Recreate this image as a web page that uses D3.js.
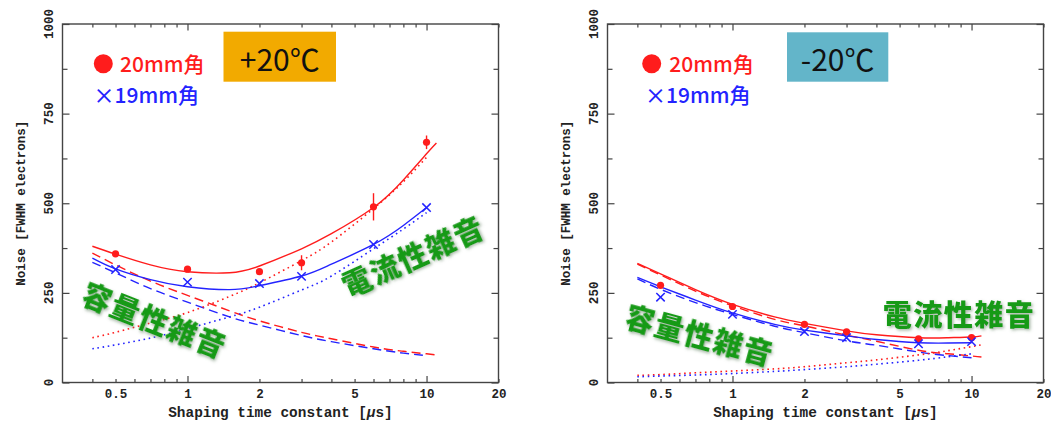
<!DOCTYPE html>
<html>
<head>
<meta charset="utf-8">
<script src="https://cdn.jsdelivr.net/npm/d3@7"></script>
<style>
  body { margin: 0; background: #fff; }
  svg { display: block; }
</style>
</head>
<body>
<div id="chart"></div>
<script>
// shaping times at which the noise was measured [us]
const shapingTimes = [0.5, 1, 2, 3, 6, 10];

// +20C measurements [FWHM electrons]
const hot20mm = [359, 316, 309, 334, 490, 670];
const hot20mmErr = [6, 6, 6, 21, 38, 19];
const hot19mm = [315, 280, 276, 296, 385, 488];

// -20C measurements
const cold20mm = [271, 212, 162, 141, 122, 125];
const cold20mmErr = [5, 5, 5, 5, 5, 5];
const cold19mm = [238, 190, 142, 125, 108, 114];

// fitted curves at these shaping times
const fitTimes = [0.4, 0.5, 0.7, 1, 1.5, 2, 3, 4, 6, 8, 10, 11];

const hotRedTotal = [380, 358, 328, 309, 306, 325, 373, 415, 488, 565, 638, 668];
const hotRedCap   = [361, 328, 283, 243, 200, 172, 140, 122, 99, 87, 80, 77];
const hotRedCur   = [125, 140, 166, 195, 240, 278, 340, 392, 485, 560, 628, null];
const hotBlueTotal = [347, 317, 287, 267, 259, 270, 297, 330, 385, 438, 488, null];
const hotBlueCap   = [335, 306, 262, 224, 183, 160, 131, 114, 94, 82, 75, null];
const hotBlueCur   = [94, 105, 124, 150, 183, 210, 258, 297, 373, 428, 474, null];

const coldRedTotal = [332, 303, 259, 218, 183, 165, 144, 133, 125, 125, 127, 130];
const coldRedCap   = [330, 300, 255, 214, 176, 158, 132, 115, 90, 80, 74, 71];
const coldRedCur   = [20, 22, 27, 32, 38, 44, 55, 63, 77, 89, 100, 105];
const coldBlueTotal = [293, 267, 230, 194, 162, 146, 130, 120, 111, 110, 111, null];
const coldBlueCap   = [289, 260, 223, 190, 157, 139, 116, 104, 85, 75, 69, null];
const coldBlueCur   = [16, 18, 21, 25, 31, 36, 44, 51, 62, 72, 80, null];

const xTickLabels = [0.5, 1, 2, 5, 10, 20];
const xMajorTicks = [1, 10];
const yTickLabels = [0, 250, 500, 750, 1000];

const legendRed = "20mm角";
const legendBlue = "×19mm角";
const capLabel = "容量性雑音";
const curLabel = "電流性雑音";

const RED = "#ff1c1c", BLUE = "#2323ff", GREEN = "#159a15";
const axisFont = "'Liberation Mono', 'DejaVu Sans Mono', monospace";
const jpFont = "'Noto Sans CJK JP', 'Noto Sans', sans-serif";

const W = 1051, H = 423;
const svg = d3.select("#chart").append("svg")
  .attr("width", W).attr("height", H);

const defs = svg.append("defs");
const shadow = defs.append("filter").attr("id", "soft")
  .attr("x", "-10%").attr("y", "-30%").attr("width", "130%").attr("height", "170%");
shadow.append("feDropShadow")
  .attr("dx", 1.5).attr("dy", 1.5).attr("stdDeviation", 1.6)
  .attr("flood-color", "#5a7a5a").attr("flood-opacity", 0.55);

const panels = [
  {
    left: 62.5, times: shapingTimes,
    red: hot20mm, redErr: hot20mmErr, blue: hot19mm,
    curves: [
      {v: hotRedCap, c: RED, dash: "9,5"},
      {v: hotBlueCap, c: BLUE, dash: "9,5"},
      {v: hotRedCur, c: RED, dash: "1.6,3.6"},
      {v: hotBlueCur, c: BLUE, dash: "1.6,3.6"},
      {v: hotRedTotal, c: RED, dash: null},
      {v: hotBlueTotal, c: BLUE, dash: null}
    ],
    box: {x: 223.5, y: 31.7, w: 112.5, h: 50, fill: "#f2aa00", text: "+20℃"},
    legend: {cx: 103.3, tx: 120, bx: 93.5},
    capText: {x: 155, y: 319, a: 21.6},
    curText: {x: 412.5, y: 255, a: -24.1}
  },
  {
    left: 607.5, times: shapingTimes,
    red: cold20mm, redErr: cold20mmErr, blue: cold19mm,
    curves: [
      {v: coldRedCap, c: RED, dash: "9,5"},
      {v: coldBlueCap, c: BLUE, dash: "9,5"},
      {v: coldRedCur, c: RED, dash: "1.6,3.6"},
      {v: coldBlueCur, c: BLUE, dash: "1.6,3.6"},
      {v: coldRedTotal, c: RED, dash: null},
      {v: coldBlueTotal, c: BLUE, dash: null}
    ],
    box: {x: 787, y: 32.3, w: 101.3, h: 49.4, fill: "#63b5c9", text: "-20℃"},
    legend: {cx: 651.7, tx: 669.3, bx: 645},
    capText: {x: 700, y: 334, a: 15.2},
    curText: {x: 959, y: 313, a: 0}
  }
];

panels.forEach(p => drawPanel(p));

function drawPanel(p) {
  const pw = 436, top = 24, bottom = 382.5;
  const x = d3.scaleLog([0.3, 20], [p.left, p.left + pw]);
  const y = d3.scaleLinear([0, 1000], [bottom, top]);
  const g = svg.append("g");

  // frame
  g.append("rect")
    .attr("x", p.left).attr("y", top)
    .attr("width", pw).attr("height", bottom - top)
    .attr("fill", "none").attr("stroke", "#444").attr("stroke-width", 1.4);

  const minorX = x.ticks().filter(t => t > 0.3 && xMajorTicks.indexOf(t) < 0);
  const tickStyle = sel => {
    sel.select(".domain").remove();
    sel.selectAll("line").attr("stroke", "#444").attr("stroke-width", 1.2);
  };

  // x ticks on bottom and top, pointing inward
  g.append("g").attr("transform", `translate(0,${bottom})`)
    .call(d3.axisBottom(x).tickValues(minorX).tickSize(-3.5).tickFormat(""))
    .call(tickStyle);
  g.append("g").attr("transform", `translate(0,${bottom})`)
    .call(d3.axisBottom(x).tickValues(xMajorTicks).tickSize(-6.5).tickFormat(""))
    .call(tickStyle);
  g.append("g").attr("transform", `translate(0,${top})`)
    .call(d3.axisTop(x).tickValues(minorX).tickSize(-3.5).tickFormat(""))
    .call(tickStyle);
  g.append("g").attr("transform", `translate(0,${top})`)
    .call(d3.axisTop(x).tickValues(xMajorTicks).tickSize(-6.5).tickFormat(""))
    .call(tickStyle);
  g.append("g").attr("transform", `translate(0,${bottom})`)
    .call(d3.axisBottom(x).tickValues(xTickLabels).tickSize(0).tickPadding(6.5)
      .tickFormat(d3.format("~g")))
    .call(sel => {
      sel.select(".domain").remove();
      sel.selectAll("text").attr("font-family", axisFont).attr("font-weight", "bold")
        .attr("font-size", 12.5).attr("fill", "#222");
    });

  // y ticks on left and right
  const minorY = d3.range(125, 1000, 250);
  [[d3.axisLeft, p.left], [d3.axisRight, p.left + pw]].forEach(([ax, pos]) => {
    g.append("g").attr("transform", `translate(${pos},0)`)
      .call(ax(y).tickValues(yTickLabels).tickSize(-7).tickFormat(""))
      .call(tickStyle);
    g.append("g").attr("transform", `translate(${pos},0)`)
      .call(ax(y).tickValues(minorY).tickSize(-5).tickFormat(""))
      .call(tickStyle);
  });

  // rotated y tick labels
  g.append("g").selectAll("text")
    .data(yTickLabels)
    .join("text")
      .attr("transform", d => `translate(${p.left - 9.5},${y(d)}) rotate(-90)`)
      .attr("text-anchor", "middle")
      .attr("font-family", axisFont).attr("font-weight", "bold")
      .attr("font-size", 12.5).attr("fill", "#222")
      .text(d => d);

  // axis titles
  g.append("text")
    .attr("transform", `translate(${p.left - 37.5},${(top + bottom) / 2}) rotate(-90)`)
    .attr("text-anchor", "middle")
    .attr("font-family", axisFont).attr("font-weight", "bold")
    .attr("font-size", 12.5).attr("fill", "#222")
    .text("Noise [FWHM electrons]");

  const xt = g.append("text")
    .attr("x", p.left + pw / 2).attr("y", 416.5)
    .attr("text-anchor", "middle")
    .attr("font-family", axisFont).attr("font-weight", "bold")
    .attr("font-size", 14.4).attr("fill", "#222");
  xt.append("tspan").text("Shaping time constant [");
  xt.append("tspan").attr("font-style", "italic").text("μ");
  xt.append("tspan").text("s]");

  // curves
  const line = d3.line()
    .defined(d => d[1] != null)
    .x(d => x(d[0])).y(d => y(d[1]))
    .curve(d3.curveNatural);
  p.curves.forEach(c => {
    g.append("path")
      .attr("d", line(d3.zip(fitTimes, c.v)))
      .attr("fill", "none")
      .attr("stroke", c.c)
      .attr("stroke-width", c.dash && c.dash.startsWith("1.6") ? 1.6 : 1.4)
      .attr("stroke-dasharray", c.dash);
  });

  // red points with error bars
  const pts = d3.zip(p.times, p.red, p.redErr);
  g.append("g").selectAll("line")
    .data(pts)
    .join("line")
      .attr("x1", d => x(d[0])).attr("x2", d => x(d[0]))
      .attr("y1", d => y(d[1] - d[2])).attr("y2", d => y(d[1] + d[2]))
      .attr("stroke", RED).attr("stroke-width", 1.4);
  g.append("g").selectAll("circle")
    .data(pts)
    .join("circle")
      .attr("cx", d => x(d[0])).attr("cy", d => y(d[1]))
      .attr("r", 3.6).attr("fill", RED);

  // blue crosses
  const cs = 4.2;
  g.append("g").selectAll("path")
    .data(d3.zip(p.times, p.blue))
    .join("path")
      .attr("d", d => {
        const cx = x(d[0]), cy = y(d[1]);
        return `M${cx - cs},${cy - cs}L${cx + cs},${cy + cs}M${cx - cs},${cy + cs}L${cx + cs},${cy - cs}`;
      })
      .attr("stroke", BLUE).attr("stroke-width", 1.5).attr("fill", "none");

  // temperature box
  g.append("rect")
    .attr("x", p.box.x).attr("y", p.box.y)
    .attr("width", p.box.w).attr("height", p.box.h)
    .attr("fill", p.box.fill);
  g.append("text")
    .attr("x", p.box.x + p.box.w / 2).attr("y", p.box.y + p.box.h / 2 + 1)
    .attr("text-anchor", "middle").attr("dominant-baseline", "central")
    .attr("font-family", jpFont).attr("font-size", 30).attr("fill", "#111")
    .text(p.box.text);

  // legend
  g.append("circle")
    .attr("cx", p.legend.cx).attr("cy", 63.8).attr("r", 9.5).attr("fill", RED);
  g.append("text")
    .attr("x", p.legend.tx).attr("y", 71.7)
    .attr("font-family", jpFont).attr("font-weight", 500)
    .attr("font-size", 21).attr("fill", RED)
    .text(legendRed);
  g.append("text")
    .attr("x", p.legend.bx).attr("y", 103.3)
    .attr("font-family", jpFont).attr("font-weight", 500)
    .attr("font-size", 21).attr("fill", BLUE)
    .text(legendBlue);

  // noise component labels
  [[p.capText, capLabel], [p.curText, curLabel]].forEach(([t, s]) => {
    g.append("text")
      .attr("transform", `translate(${t.x},${t.y}) rotate(${t.a})`)
      .attr("text-anchor", "middle").attr("dominant-baseline", "central")
      .attr("font-family", jpFont).attr("font-weight", 900)
      .attr("font-size", 29).attr("letter-spacing", 1.5)
      .attr("fill", GREEN).attr("filter", "url(#soft)")
      .text(s);
  });
}
</script>
</body>
</html>
